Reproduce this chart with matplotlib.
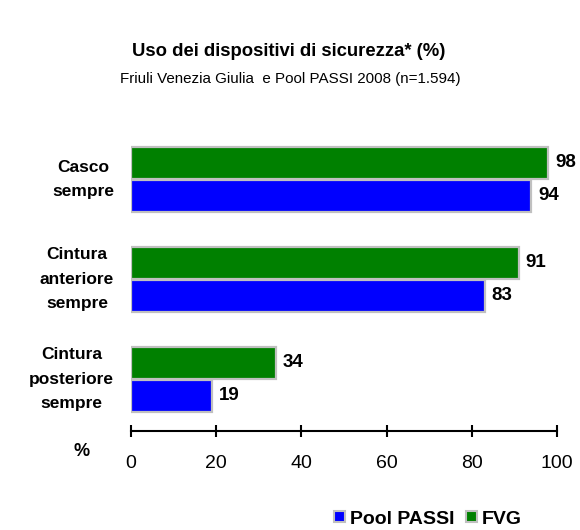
import matplotlib
matplotlib.use("Agg")
import matplotlib.pyplot as plt
import numpy as np
from matplotlib.patches import Patch

plt.rcParams['font.family'] = ['Liberation Sans', 'DejaVu Sans']

categories = ["Casco\nsempre", "Cintura\nanteriore\nsempre", "Cintura\nposteriore\nsempre"]
fvg = [98, 91, 34]
pool = [94, 83, 19]
series_names = ["Pool PASSI", "FVG"]
xticks = [0, 20, 40, 60, 80, 100]

green = "#008000"
blue = "#0000FF"
edge = "#C0C0C0"

fig = plt.figure(figsize=(5.8, 5.3), dpi=100)
ax = fig.add_axes([131 / 580, 1 - 431 / 530, (557 - 131) / 580, 291 / 530])

y = np.arange(len(categories))[::-1].astype(float)
h = 0.32
off = 0.165
ax.barh(y + off, fvg, height=h, color=green, edgecolor=edge, linewidth=1.6)
ax.barh(y - off, pool, height=h, color=blue, edgecolor=edge, linewidth=1.6)

for yi, v in list(zip(y + off, fvg)) + list(zip(y - off, pool)):
    ax.annotate(str(v), (v, yi), xytext=(5, 0), textcoords="offset points",
                va="center", ha="left", fontsize=13.5, fontweight="bold")

ax.set_xlim(0, 100)
ax.set_ylim(-0.52, 2.395)
ax.set_xticks(xticks)
ax.set_xticklabels([str(t) for t in xticks], fontsize=14)
ax.set_yticks(y)
ax.set_yticklabels([])
ax.tick_params(axis="y", length=0)
ax.tick_params(axis="x", direction="inout", length=9, width=1.5, pad=13)
for s in ["top", "right", "left"]:
    ax.spines[s].set_visible(False)
ax.spines["bottom"].set_linewidth(1.5)

for yi, lab in zip(y, categories):
    ax.annotate(lab, (0, yi), xytext=(-17, 0), textcoords="offset pixels",
                ha="right", va="center", fontsize=12.5, fontweight="bold",
                linespacing=1.8, multialignment="center", annotation_clip=False)

fig.text(82 / 580, 1 - 452 / 530, "%", ha="center", va="center", fontsize=13, fontweight="bold")

fig.text(289 / 580, 1 - 51 / 530, "Uso dei dispositivi di sicurezza* (%)", ha="center", va="center",
         fontsize=13.3, fontweight="bold")
fig.text(290 / 580, 1 - 79 / 530, "Friuli Venezia Giulia  e Pool PASSI 2008 (n=1.594)", ha="center",
         va="center", fontsize=10.9)

handles = [Patch(facecolor=blue, edgecolor=edge, linewidth=1.5),
           Patch(facecolor=green, edgecolor=edge, linewidth=1.5)]
fig.legend(handles, series_names, loc="center", bbox_to_anchor=(428 / 580, 1 - 519 / 530),
           ncol=2, frameon=False, handlelength=0.55, handleheight=0.55, handletextpad=0.25,
           columnspacing=0.6, borderpad=0, prop={"weight": "bold", "size": 14})

fig.savefig("out.png", dpi=100)
